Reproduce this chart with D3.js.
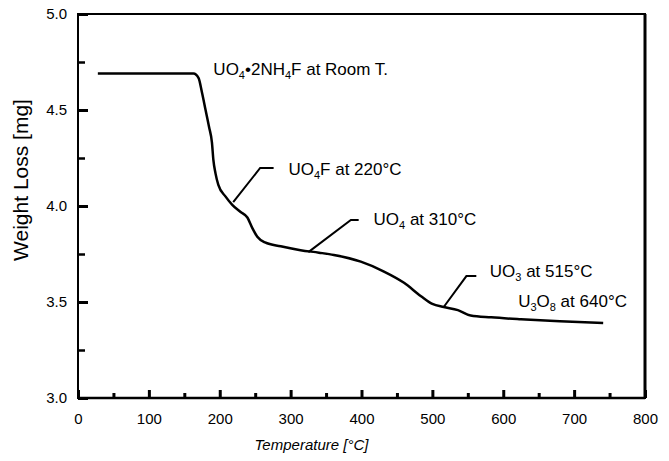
<!DOCTYPE html>
<html>
<head>
<meta charset="utf-8">
<script src="https://cdn.jsdelivr.net/npm/d3@7"></script>
<style>
  html, body { margin: 0; padding: 0; background: #fff; }
  svg { display: block; }
  text { font-family: "Liberation Sans", Arial, sans-serif; fill: #000; }
</style>
</head>
<body>
<svg id="chart" width="669" height="461"></svg>
<script>
// ---- data ----
const temps   = [28, 163, 170, 175, 180, 185, 189, 191, 194, 198, 208, 218, 229, 239, 246, 253, 264, 286, 314, 340, 361, 399, 431, 460, 484, 500, 516, 536, 554, 583, 625, 680, 741];
const weights = [4.69, 4.69, 4.667, 4.59, 4.50, 4.41, 4.33, 4.24, 4.17, 4.11, 4.05, 4.005, 3.97, 3.94, 3.885, 3.84, 3.81, 3.79, 3.77, 3.757, 3.745, 3.71, 3.66, 3.60, 3.53, 3.49, 3.474, 3.458, 3.43, 3.42, 3.41, 3.40, 3.39];

const xTicks = [0, 100, 200, 300, 400, 500, 600, 700, 800];
const xMinorTicks = [50, 150, 250, 350, 450, 550, 650, 750];
const yTicks = [3.0, 3.5, 4.0, 4.5, 5.0];
const yMinorTicks = [3.25, 3.75, 4.25, 4.75];

// annotation labels: main text pieces, text anchor (T, W)
const labelParts = [
  [["UO"], ["4", "sub"], ["•2NH"], ["4", "sub"], ["F at Room T."]],
  [["UO"], ["4", "sub"], ["F at 220°C"]],
  [["UO"], ["4", "sub"], [" at 310°C"]],
  [["UO"], ["3", "sub"], [" at 515°C"]],
  [["U"], ["3", "sub"], ["O"], ["8", "sub"], [" at 640°C"]]
];
const labelT = [191, 297, 417, 581, 621];
const labelW = [4.682, 4.161, 3.901, 3.630, 3.474];

// leader lines: start on curve, elbow, end (T, W)
const leaderT = [[219, 257, 276], [325, 385, 396], [516, 548, 562]];
const leaderW = [[4.02, 4.198, 4.198], [3.76, 3.927, 3.927], [3.474, 3.635, 3.635]];

// ---- layout ----
const svg = d3.select("#chart");
const mLeft = 78, mRight = 645, mTop = 14, mBottom = 398;

const x = d3.scaleLinear().domain([0, 800]).range([mLeft, mRight]);
const y = d3.scaleLinear().domain([3.0, 5.0]).range([mBottom, mTop]);

// frame
const g = svg.append("g");
g.append("rect")
  .attr("x", mLeft).attr("y", mTop)
  .attr("width", mRight - mLeft).attr("height", mBottom - mTop)
  .attr("fill", "none").attr("stroke", "#000").attr("stroke-width", 2);
g.append("line").attr("x1", mRight).attr("x2", mRight).attr("y1", mTop).attr("y2", mBottom)
  .attr("stroke", "#000").attr("stroke-width", 3);
g.append("line").attr("x1", mLeft).attr("x2", mRight).attr("y1", mBottom).attr("y2", mBottom)
  .attr("stroke", "#000").attr("stroke-width", 2.5);

// y axis (ticks inward)
const yAxis = d3.axisLeft(y).tickValues(yTicks).tickSize(-10).tickPadding(11)
  .tickFormat(d3.format(".1f"));
const ya = svg.append("g").attr("transform", `translate(${mLeft},0)`).call(yAxis);
ya.select(".domain").remove();
ya.selectAll(".tick line").attr("stroke-width", 3);
ya.selectAll(".tick text").style("font-size", "15px");

const yMinor = d3.axisLeft(y).tickValues(yMinorTicks).tickSize(-7).tickFormat("");
const ym = svg.append("g").attr("transform", `translate(${mLeft},0)`).call(yMinor);
ym.select(".domain").remove();
ym.selectAll(".tick line").attr("stroke-width", 2.5);

// x axis (ticks inward)
const xAxis = d3.axisBottom(x).tickValues(xTicks).tickSize(-8).tickPadding(15)
  .tickFormat(d3.format("d"));
const xa = svg.append("g").attr("transform", `translate(0,${mBottom})`).call(xAxis);
xa.select(".domain").remove();
xa.selectAll(".tick line").attr("stroke-width", 3);
xa.selectAll(".tick text").style("font-size", "15px");

const xMinor = d3.axisBottom(x).tickValues(xMinorTicks).tickSize(-5).tickFormat("");
const xm = svg.append("g").attr("transform", `translate(0,${mBottom})`).call(xMinor);
xm.select(".domain").remove();
xm.selectAll(".tick line").attr("stroke-width", 3);

// axis titles
svg.append("text")
  .attr("x", (mLeft + mRight) / 2 - 50).attr("y", 450)
  .attr("text-anchor", "middle")
  .style("font-size", "15px").style("font-style", "italic")
  .text("Temperature [°C]");

svg.append("text")
  .attr("transform", "translate(28,180) rotate(-90)")
  .attr("text-anchor", "middle")
  .style("font-size", "21px")
  .text("Weight Loss [mg]");

// curve
const pts = temps.map((t, i) => [t, weights[i]]);
const line = d3.line().x(d => x(d[0])).y(d => y(d[1])).curve(d3.curveMonotoneX);
svg.append("path").datum(pts)
  .attr("d", line)
  .attr("fill", "none").attr("stroke", "#000")
  .attr("stroke-width", 2.5).attr("stroke-linejoin", "round");

// leader lines
leaderT.forEach((ts, i) => {
  const p = ts.map((t, j) => [t, leaderW[i][j]]);
  svg.append("path").datum(p)
    .attr("d", d3.line().x(d => x(d[0])).y(d => y(d[1])))
    .attr("fill", "none").attr("stroke", "#000").attr("stroke-width", 2);
});

// labels
labelParts.forEach((parts, i) => {
  const t = svg.append("text")
    .attr("x", x(labelT[i])).attr("y", y(labelW[i]))
    .style("font-size", "17px");
  parts.forEach(([s, kind]) => {
    const sp = t.append("tspan").text(s);
    if (kind === "sub") sp.attr("dy", 4).style("font-size", "11px");
    else if (sp.node().previousSibling) sp.attr("dy", -4);
  });
});
</script>
</body>
</html>
